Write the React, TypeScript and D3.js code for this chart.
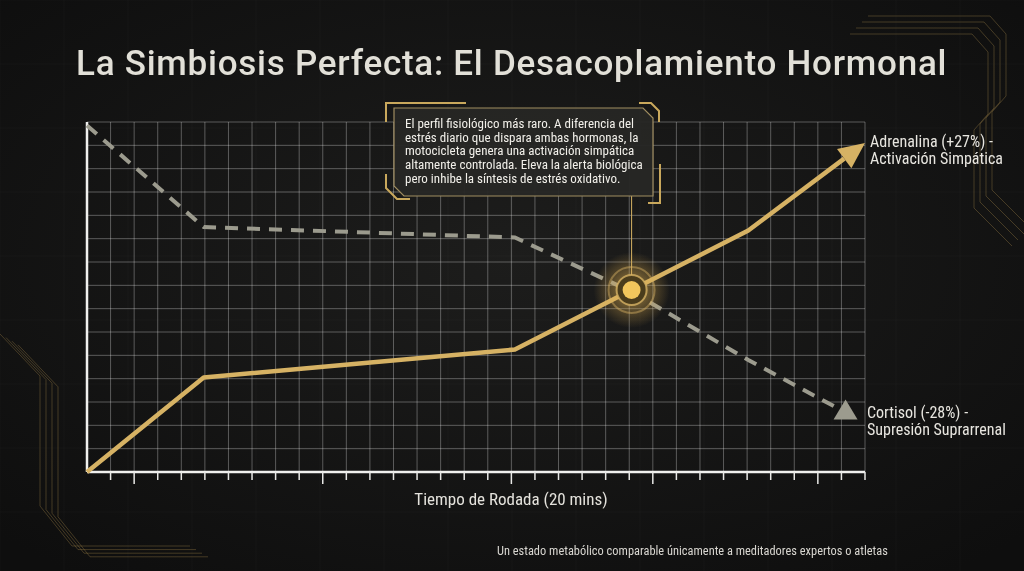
import * as d3 from "d3";

const W = 1024;
const H = 571;
const PLOT = { left: 87, right: 865, top: 122, bottom: 472 };

// minutes into the ride vs relative level (0-100)
const adrenalineMinutes = [0, 3, 7, 11, 14, 17, 20];
const adrenalineValues = [0, 27, 31, 35, 52, 69, 94];
const cortisolMinutes = [0, 3, 11, 14, 17, 19.5];
const cortisolValues = [99, 70, 67, 51.5, 32, 17];

const GRID_COLS = 33;
const GRID_ROWS = 15;
const LONG_TICKS = [2, 10, 18, 24, 31];

const TITLE = "La Simbiosis Perfecta: El Desacoplamiento Hormonal";
const X_TITLE = "Tiempo de Rodada (20 mins)";
const FOOTER = "Un estado metabólico comparable únicamente a meditadores expertos o atletas";
const ADR_LABEL = ["Adrenalina (+27%) -", "Activación Simpática"];
const CORT_LABEL = ["Cortisol (-28%) -", "Supresión Suprarrenal"];
const NOTE_LINES = [
  "El perfil fisiológico más raro. A diferencia del",
  "estrés diario que dispara ambas hormonas, la",
  "motocicleta genera una activación simpática",
  "altamente controlada. Eleva la alerta biológica",
  "pero inhibe la síntesis de estrés oxidativo.",
];
const MARKER_MINUTE = 14;
const MARKER_VALUE = 52;

const GOLD = "#d6b264";
const GRAY = "#9c9b8e";
const NARROW = "'Roboto Condensed', 'Liberation Sans Narrow', 'DejaVu Sans Condensed', Roboto, sans-serif";

// decorative circuit traces (background art)
const traceLeft: [number, number][] = [[0, 334], [40, 376], [40, 506], [72, 546], [190, 546]];
const traceRight: [number, number][] = [[868, 16], [990, 16], [1006, 34], [1006, 96], [992, 112], [992, 190], [1030, 228]];

export default function App() {
  const x = d3.scaleLinear().domain([0, 20]).range([PLOT.left, PLOT.right]);
  const y = d3.scaleLinear().domain([0, 100]).range([PLOT.bottom, PLOT.top]);
  const gx = d3.scaleLinear().domain([0, GRID_COLS]).range([PLOT.left, PLOT.right]);
  const gy = d3.scaleLinear().domain([0, GRID_ROWS]).range([PLOT.bottom, PLOT.top]);

  const adr: [number, number][] = adrenalineMinutes.map((m, i) => [x(m), y(adrenalineValues[i])]);
  const cort: [number, number][] = cortisolMinutes.map((m, i) => [x(m), y(cortisolValues[i])]);

  // arrowhead on the adrenaline line
  const [p1, p2] = adr.slice(-2);
  const ang = Math.atan2(p2[1] - p1[1], p2[0] - p1[0]);
  const headLen = 26;
  const headHalf = 12;
  const base: [number, number] = [p2[0] - headLen * Math.cos(ang), p2[1] - headLen * Math.sin(ang)];
  const perp = [-Math.sin(ang), Math.cos(ang)];
  const head = [
    p2,
    [base[0] + perp[0] * headHalf, base[1] + perp[1] * headHalf],
    [base[0] - perp[0] * headHalf, base[1] - perp[1] * headHalf],
  ];
  const adrLine = [...adr.slice(0, -1), base];

  const line = d3.line<[number, number]>();
  const last = cort[cort.length - 1];

  const mx = x(MARKER_MINUTE);
  const my = y(MARKER_VALUE);

  // annotation box
  const bx0 = 394, bx1 = 653, by0 = 108, by1 = 196, ch = 10;
  const boxPath = `M${bx0},${by0} H${bx1 - ch} L${bx1},${by0 + ch} V${by1} H${bx0 + ch} L${bx0},${by1 - ch} Z`;

  const traceOffsets = [0, 6, 12, 18];

  return (
    <svg width={W} height={H} style={{ position: "fixed", left: 0, top: 0 }} fontFamily="Roboto, sans-serif">
      <defs>
        <radialGradient id="bg" cx="50%" cy="45%" r="70%">
          <stop offset="0%" stopColor="#1d1d1c" />
          <stop offset="100%" stopColor="#0e0e0e" />
        </radialGradient>
        <radialGradient id="glow">
          <stop offset="0%" stopColor="#ffd56a" stopOpacity={0.8} />
          <stop offset="45%" stopColor="#e0b050" stopOpacity={0.38} />
          <stop offset="100%" stopColor="#e0b050" stopOpacity={0} />
        </radialGradient>
      </defs>
      <rect width={W} height={H} fill="url(#bg)" />

      {/* faint background grid */}
      {d3.range(0, W, 64).map((v) => (
        <line key={`bgx${v}`} x1={v} x2={v} y1={0} y2={H} stroke="#ffffff" strokeOpacity={0.025} />
      ))}
      {d3.range(0, H, 64).map((v) => (
        <line key={`bgy${v}`} x1={0} x2={W} y1={v} y2={v} stroke="#ffffff" strokeOpacity={0.025} />
      ))}

      {/* circuit traces */}
      {traceOffsets.map((o) => (
        <g key={o} fill="none" stroke="#a88a4a" strokeOpacity={0.35} strokeWidth={1}>
          <path d={line(traceLeft.map(([a, b]) => [a + o, b + o * 0.6]) as [number, number][]) ?? ""} />
          <path d={line(traceRight.map(([a, b]) => [a - o, b + o]) as [number, number][]) ?? ""} />
        </g>
      ))}

      <text x={76} y={75} fontSize={35} fontWeight={500} letterSpacing={0.75} fill="#e2e0d8">
        {TITLE}
      </text>

      {/* plot grid */}
      {d3.range(0, GRID_COLS + 1).map((i) => (
        <line key={`gc${i}`} x1={gx(i)} x2={gx(i)} y1={PLOT.top} y2={PLOT.bottom} stroke="#ffffff" strokeOpacity={0.3} />
      ))}
      {d3.range(0, GRID_ROWS + 1).map((i) => (
        <line key={`gr${i}`} x1={PLOT.left} x2={PLOT.right} y1={gy(i)} y2={gy(i)} stroke="#ffffff" strokeOpacity={0.3} />
      ))}

      {/* axes */}
      <line x1={PLOT.left} x2={PLOT.left} y1={PLOT.top} y2={PLOT.bottom} stroke="#f0f0ee" strokeWidth={2.5} />
      <line x1={PLOT.left} x2={PLOT.right} y1={PLOT.bottom} y2={PLOT.bottom} stroke="#f0f0ee" strokeWidth={2.5} />
      {d3.range(1, GRID_COLS + 1).map((i) => (
        <line
          key={`t${i}`}
          x1={gx(i)}
          x2={gx(i)}
          y1={PLOT.bottom}
          y2={PLOT.bottom + (LONG_TICKS.includes(i) ? 12 : 8)}
          stroke="#e8e8e6"
          strokeWidth={1.5}
        />
      ))}
      <text x={511} y={505} textAnchor="middle" fontSize={17} fontFamily={NARROW} fill="#e4e2dc">
        {X_TITLE}
      </text>

      {/* cortisol */}
      <path d={line(cort) ?? ""} fill="none" stroke={GRAY} strokeWidth={4} strokeDasharray="13 9" />
      <path
        d={`M${last[0]},${last[1] - 13} L${last[0] + 12},${last[1] + 7} L${last[0] - 12},${last[1] + 7} Z`}
        fill={GRAY}
      />

      {/* adrenaline */}
      <path d={line(adrLine) ?? ""} fill="none" stroke={GOLD} strokeWidth={4.5} strokeLinejoin="round" />
      <path d={line(head as [number, number][]) + "Z"} fill={GOLD} />

      {/* crossing marker */}
      <line x1={mx} x2={mx} y1={by1} y2={my - 14} stroke={GOLD} strokeWidth={1} />
      <circle cx={mx} cy={my} r={38} fill="url(#glow)" />
      <circle cx={mx} cy={my} r={23} fill="none" stroke={GOLD} strokeOpacity={0.45} strokeWidth={2} />
      <circle cx={mx} cy={my} r={15} fill="#4a3c1c" stroke={GOLD} strokeOpacity={0.8} strokeWidth={2} />
      <circle cx={mx} cy={my} r={9} fill="#f2c65c" />

      {/* series labels */}
      <g fontFamily={NARROW} fontSize={16} fill="#e8e6e0">
        {ADR_LABEL.map((t, i) => (
          <text key={t} x={870} y={147 + i * 17}>
            {t}
          </text>
        ))}
        {CORT_LABEL.map((t, i) => (
          <text key={t} x={867} y={418 + i * 17}>
            {t}
          </text>
        ))}
      </g>

      {/* annotation */}
      <path d={boxPath} fill="#262624" fillOpacity={0.96} stroke="#a08d60" strokeWidth={1.2} />
      <g fill="none" stroke="#c9a85c" strokeWidth={2}>
        <path d={`M${bx0 - 8},${by0 + 14} V${by0 - 5} H${bx0 + 72}`} />
        <path d={`M${bx1 - 14},${by0 - 5} H${bx1 - 2} L${bx1 + 6},${by0 + 3} V${by0 + 14}`} />
        <path d={`M${bx0 - 8},${by1 - 22} V${by1 - 8} L${bx0 + 3},${by1 + 3} H${bx0 + 16}`} />
        <path d={`M${bx1 + 7},${by1 - 32} V${by1 + 7} H${bx1 - 5}`} />
      </g>
      <g fontFamily={NARROW} fontSize={13} fill="#f2f0ea">
        {NOTE_LINES.map((t, i) => (
          <text key={i} x={405} y={128 + i * 13.7}>
            {t}
          </text>
        ))}
      </g>

      <text x={497} y={555} fontSize={12.4} fontFamily={NARROW} fill="#d8d6d0">
        {FOOTER}
      </text>
    </svg>
  );
}
